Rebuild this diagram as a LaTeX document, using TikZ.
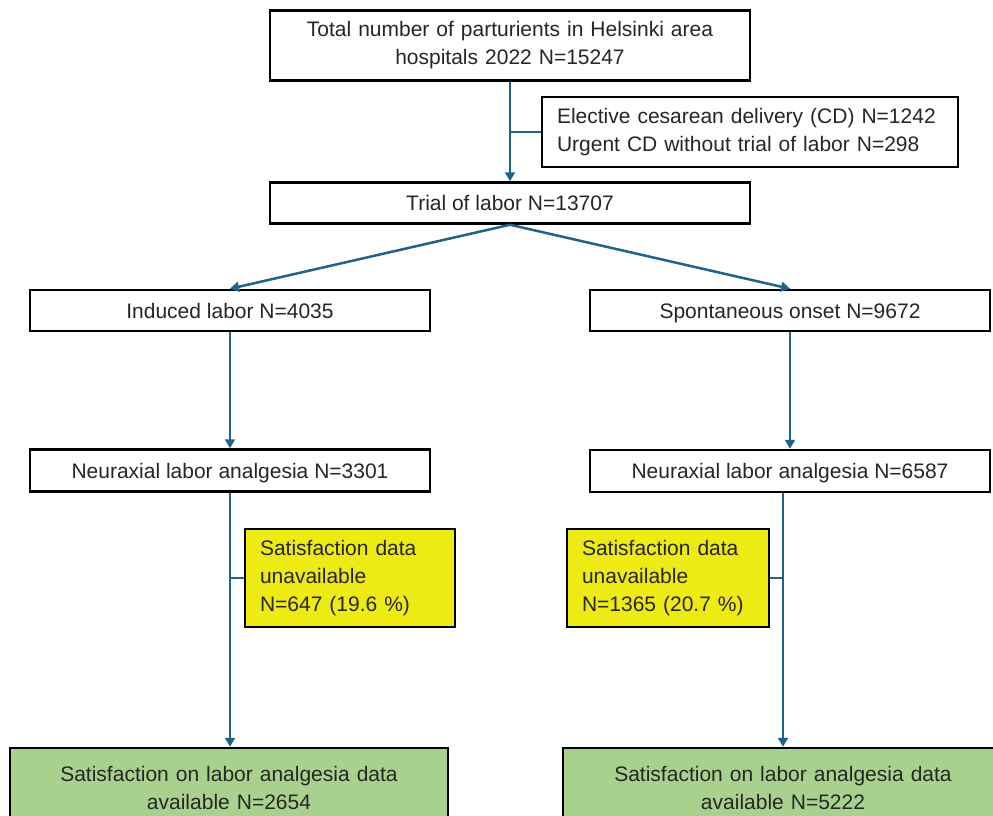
\documentclass[tikz,border=0pt]{standalone}
\usepackage{fontspec}
\setmainfont{Liberation Sans}
\usetikzlibrary{arrows.meta}

\definecolor{flowblue}{RGB}{31,99,138}
\definecolor{boxtext}{RGB}{38,38,38}
\definecolor{missyellow}{RGB}{238,234,20}
\definecolor{okgreen}{RGB}{169,209,142}

\tikzset{
  flowbox/.style={draw=black, line width=2.5pt, fill=white, text=boxtext,
    inner sep=0pt, align=center, font=\fontsize{21}{28}\selectfont},
  onerow/.style={flowbox, text height=18pt, text depth=3pt},
  notebox/.style={flowbox, fill=missyellow, align=left, inner xsep=15pt},
  endbox/.style={flowbox, fill=okgreen},
  flow/.style={draw=flowblue, line width=2.5pt, -{Triangle[length=9pt,width=10pt]}},
  branch/.style={draw=flowblue, line width=2.5pt},
}

\begin{document}
\begin{tikzpicture}[x=1pt, y=-1pt]
    \useasboundingbox (0,0) rectangle (993,816);
    \clip (0,0) rectangle (993,816);

    % Whole cohort
    \node[flowbox, minimum width=480pt, minimum height=70pt, text width=480pt] (total) at (510,45.5)
        {Total number of parturients in Helsinki area\\hospitals 2022 N=15247};

    % Excluded before labor
    \node[flowbox, align=left, inner xsep=15pt, minimum height=70pt, text width=386pt] (excl) at (750,132)
        {Elective cesarean delivery (CD) N=1242\\Urgent CD without trial of labor N=298};

    % Trial of labor
    \node[onerow, minimum width=480pt, minimum height=41pt] (trial) at (510,203) {Trial of labor N=13707};

    % Onset of labor
    \node[onerow, minimum width=400pt, minimum height=41pt] (induced) at (230,310.5) {Induced labor N=4035};
    \node[onerow, minimum width=400pt, minimum height=41pt] (spont) at (790,310.5) {Spontaneous onset N=9672};

    % Neuraxial analgesia
    \node[onerow, minimum width=400pt, minimum height=42pt] (neurL) at (230,470.5) {Neuraxial labor analgesia N=3301};
    \node[onerow, minimum width=400pt, minimum height=42pt] (neurR) at (790,471) {Neuraxial labor analgesia N=6587};

    % Missing satisfaction data
    \node[notebox, minimum height=98pt, text width=180pt] (missL) at (350,578)
        {Satisfaction data\\unavailable\\N=647 (19.6 \%)};
    \node[notebox, minimum height=98pt, text width=172pt] (missR) at (668,578)
        {Satisfaction data\\unavailable\\N=1365 (20.7 \%)};

    % Final samples
    \node[endbox, minimum width=438pt, minimum height=80pt, text width=438pt] (finalL) at (229,788)
        {Satisfaction on labor analgesia data\\available N=2654};
    \node[endbox, minimum width=440pt, minimum height=80pt, text width=440pt] (finalR) at (783,788)
        {Satisfaction on labor analgesia data\\available N=5222};

    % Connectors
    \draw[flow] (total.south) -- (trial.north);
    \draw[branch] (excl.west) -- (excl.west -| total.south);
    \draw[flow] (trial.south) -- (induced.north);
    \draw[flow] (trial.south) -- (spont.north);
    \draw[flow] (induced.south) -- (neurL.north);
    \draw[flow] (spont.south) -- (neurR.north);
    \draw[flow] (neurL.south) -- (neurL.south |- finalL.north);
    \draw[branch] (missL.west) -- (missL.west -| neurL.south);
    \draw[flow] (finalR.north |- neurR.south) -- (finalR.north);
    \draw[branch] (missR.east) -- (missR.east -| finalR.north);
\end{tikzpicture}
\end{document}
